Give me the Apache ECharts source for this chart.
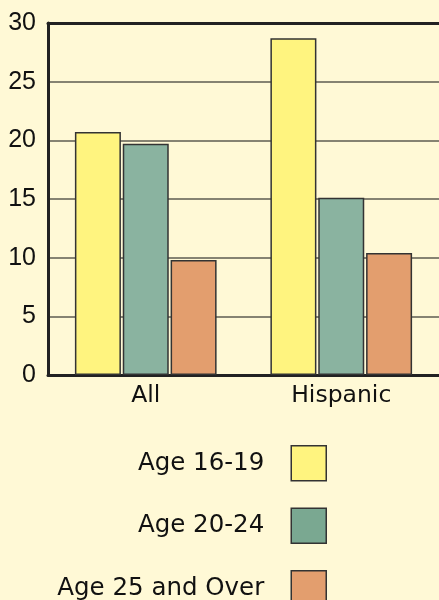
<!DOCTYPE html>
<html>
<head>
<meta charset="utf-8">
<script src="https://cdn.jsdelivr.net/npm/echarts@6/dist/echarts.min.js"></script>
<style>
  html, body { margin: 0; padding: 0; background: #FFF9D6; }
  #chart { width: 439px; height: 600px; }
</style>
</head>
<body>
<div id="chart"></div>
<script>
// Unemployment rates by age group
const categories = ['All', 'Hispanic'];
const seriesNames = ['Age 16-19', 'Age 20-24', 'Age 25 and Over'];
const age16to19 = [20.7, 28.7];
const age20to24 = [19.7, 15.1];
const age25plus = [9.8, 10.4];
const yTicks = [0, 5, 10, 15, 20, 25, 30];

const barColors = ['#FFF47F', '#8AB3A0', '#E39E6E'];
const legendColors = ['#FFF47F', '#7AA891', '#E39E6E'];
const values = [age16to19, age20to24, age25plus];

const chart = echarts.init(document.getElementById('chart'));
const fontFam = '"DejaVu Sans", sans-serif';

chart.setOption({
  backgroundColor: '#FFF9D6',
  animation: false,
  grid: { left: 48, right: 0, top: 23, bottom: 225, containLabel: false },
  legend: {
    orient: 'vertical',
    align: 'right',
    right: 112,
    top: 445,
    height: 220,
    padding: 0,
    itemWidth: 35,
    itemHeight: 35,
    itemGap: 26,
    icon: 'rect',
    selectedMode: false,
    textStyle: {
      fontFamily: fontFam,
      fontSize: 24.5,
      color: '#111',
      padding: [0, 22, 0, 0]
    },
    data: seriesNames.map((n, i) => ({
      name: n,
      itemStyle: { color: legendColors[i], borderColor: '#333', borderWidth: 1.5 }
    }))
  },
  xAxis: [
    {
      type: 'category',
      data: categories,
      axisLine: { lineStyle: { color: '#222', width: 3 } },
      axisTick: { show: false },
      axisLabel: { color: '#111', fontFamily: fontFam, fontSize: 23.5, margin: 9 },
      splitLine: { show: false }
    },
    {
      type: 'category',
      position: 'top',
      data: categories,
      axisLine: { lineStyle: { color: '#222', width: 3 } },
      axisTick: { show: false },
      axisLabel: { show: false },
      splitLine: { show: false }
    }
  ],
  yAxis: {
    type: 'value',
    min: yTicks[0],
    max: yTicks[yTicks.length - 1],
    interval: yTicks[1] - yTicks[0],
    axisLine: { show: true, lineStyle: { color: '#222', width: 3 } },
    axisTick: { show: false },
    axisLabel: {
      color: '#111',
      fontFamily: '"Liberation Sans", Arial, sans-serif',
      fontSize: 25,
      margin: 12
    },
    splitLine: { lineStyle: { color: '#5E5B50', width: 1.5 } }
  },
  series: seriesNames.map((n, i) => ({
    name: n,
    type: 'bar',
    xAxisIndex: 0,
    data: values[i],
    barWidth: 46,
    barGap: '4%',
    itemStyle: { color: barColors[i], borderColor: '#333', borderWidth: 1.5 }
  }))
});
</script>
</body>
</html>
